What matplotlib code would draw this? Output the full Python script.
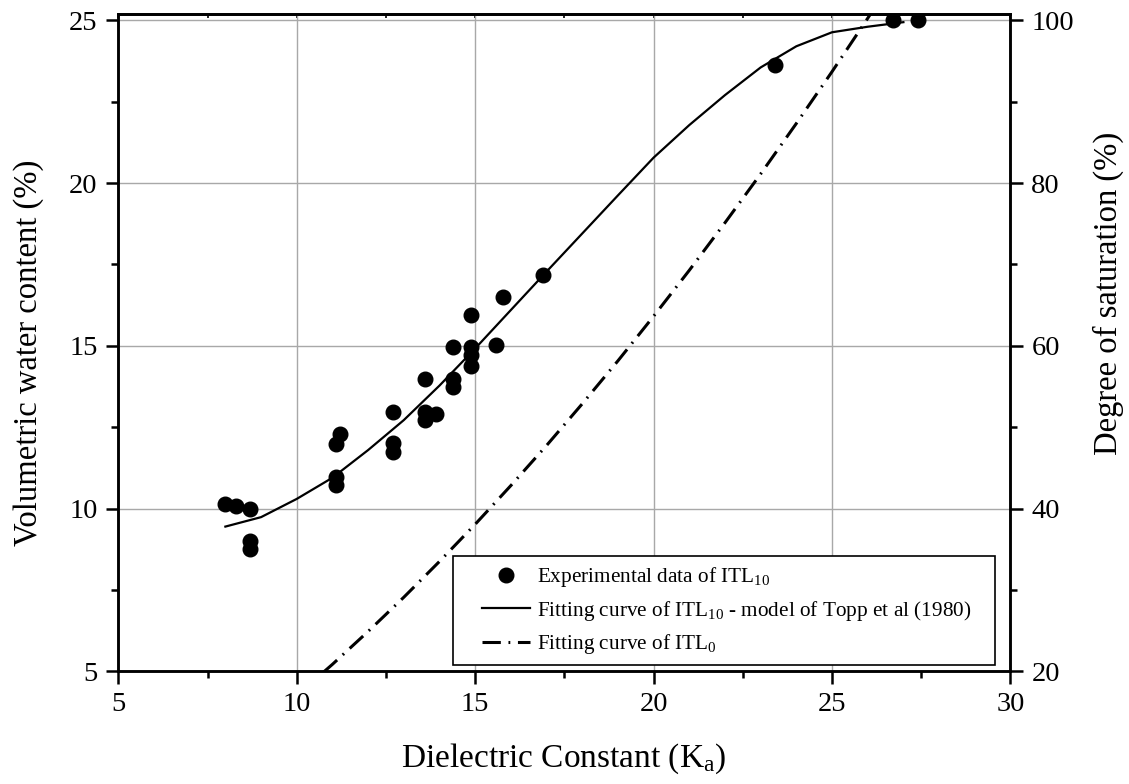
import numpy as np
import matplotlib
matplotlib.use("Agg")
import matplotlib.pyplot as plt
from matplotlib.ticker import MultipleLocator
from matplotlib.patches import Rectangle

plt.rcParams["font.family"] = ["Liberation Serif", "DejaVu Serif"]
plt.rcParams["mathtext.fontset"] = "custom"
plt.rcParams["mathtext.rm"] = "Liberation Serif"
plt.rcParams["mathtext.it"] = "Liberation Serif:italic"

# experimental data of ITL10 (Ka, volumetric water content %)
ka_exp = [7.99, 8.30, 8.69, 8.69, 8.69,
          11.10, 11.10, 11.10, 11.21,
          12.69, 12.69, 12.69,
          13.60, 13.60, 13.60, 13.90,
          14.38, 14.38, 14.38,
          14.89, 14.89, 14.89, 14.89,
          15.58, 15.78, 16.89, 23.40, 26.70, 27.40]
theta_exp = [10.14, 10.08, 10.00, 9.02, 8.75,
             10.98, 10.73, 11.99, 12.28,
             12.97, 12.01, 11.74,
             13.97, 12.98, 12.72, 12.91,
             14.96, 13.99, 13.75,
             15.96, 14.98, 14.72, 14.39,
             15.04, 16.51, 17.18, 23.61, 25.00, 25.00]

# fitting curve of ITL10 (Topp model)
ka_fit10 = [8, 9, 10, 11, 12, 13, 14, 15, 16, 17, 18, 19, 20, 21, 22, 23, 24, 25, 26, 27]
theta_fit10 = [9.45, 9.74, 10.30, 10.95, 11.80, 12.72, 13.78, 14.92, 16.10, 17.28, 18.45,
               19.62, 20.78, 21.78, 22.70, 23.55, 24.20, 24.63, 24.80, 24.94]

# fitting curve of ITL0
ka_fit0 = [10, 11, 12, 13, 14, 15, 16, 17, 18, 19, 20, 21, 22, 23, 24, 25, 26, 27]
theta_fit0 = [4.26, 5.22, 6.23, 7.28, 8.38, 9.52, 10.71, 11.94, 13.22, 14.54, 15.91,
              17.32, 18.78, 20.28, 21.83, 23.42, 25.06, 26.74]

fig = plt.figure(figsize=(11.29, 7.84), dpi=100)
ax = fig.add_axes([0.1048, 0.1435, 0.7902, 0.8386])

ax.plot(ka_exp, theta_exp, "o", color="black", markersize=10.5,
        label="Experimental data of ITL$_{10}$", zorder=4)
ax.plot(ka_fit10, theta_fit10, "-", color="black", lw=1.6,
        label="Fitting curve of ITL$_{10}$ - model of Topp et al (1980)", zorder=3)
ax.plot(ka_fit0, theta_fit0, color="black", lw=2.2, linestyle=(0, (6, 2.5, 0.6, 2.5)),
        label="Fitting curve of ITL$_{0}$", zorder=3)

ax.set_xlim(5, 30)
ax.set_ylim(5, 25.19)
ax.xaxis.set_major_locator(MultipleLocator(5))
ax.xaxis.set_minor_locator(MultipleLocator(2.5))
ax.yaxis.set_major_locator(MultipleLocator(5))
ax.yaxis.set_minor_locator(MultipleLocator(2.5))
ax.grid(True, which="major", color="#a8a8a8", lw=1.0)
ax.set_axisbelow(True)

for s in ax.spines.values():
    s.set_linewidth(1.8)

ax.tick_params(axis="both", which="major", direction="out", length=9, width=1.8,
               labelsize=20.5, pad=6)
ax.tick_params(axis="both", which="minor", direction="out", length=5, width=1.8)

# short inward ticks on the top edge
top = ax.secondary_xaxis("top")
top.xaxis.set_major_locator(MultipleLocator(5))
top.xaxis.set_minor_locator(MultipleLocator(2.5))
top.tick_params(which="both", direction="in", length=3, width=1.2, labeltop=False)
top.spines["top"].set_linewidth(1.8)

ax.set_xlabel("Dielectric Constant (K$_{\\mathrm{a}}$)", fontsize=24)
ax.set_ylabel("Volumetric water content (%)", fontsize=23.5)
ax.xaxis.set_label_coords(0.4995, -0.107)
ax.yaxis.set_label_coords(-0.0833, 0.485)

ax2 = ax.twinx()
ax2.set_ylim(20, 100.76)
ax2.yaxis.set_major_locator(MultipleLocator(20))
ax2.yaxis.set_minor_locator(MultipleLocator(10))
ax2.tick_params(axis="y", which="major", direction="out", length=9, width=1.8,
                labelsize=20.5, pad=6)
ax2.tick_params(axis="y", which="minor", direction="out", length=5, width=1.8)
ax2.set_ylabel("Degree of saturation (%)", fontsize=23.5)
ax2.yaxis.set_label_coords(1.092, 0.575)
for s in ax2.spines.values():
    s.set_linewidth(1.8)

# legend frame drawn separately, entries placed inside it
ax.add_patch(Rectangle((0.3754, 0.0099), 0.6076, 0.1658, transform=ax.transAxes,
                       facecolor="white", edgecolor="black", lw=1.2, zorder=5))
leg = ax.legend(loc="upper left", bbox_to_anchor=(0.4072, 0.162),
                fontsize=15.3, frameon=False, handlelength=2.27, handletextpad=0.33,
                labelspacing=0.45, borderpad=0, borderaxespad=0)
leg.set_zorder(6)

fig.savefig("out.png", dpi=100)
